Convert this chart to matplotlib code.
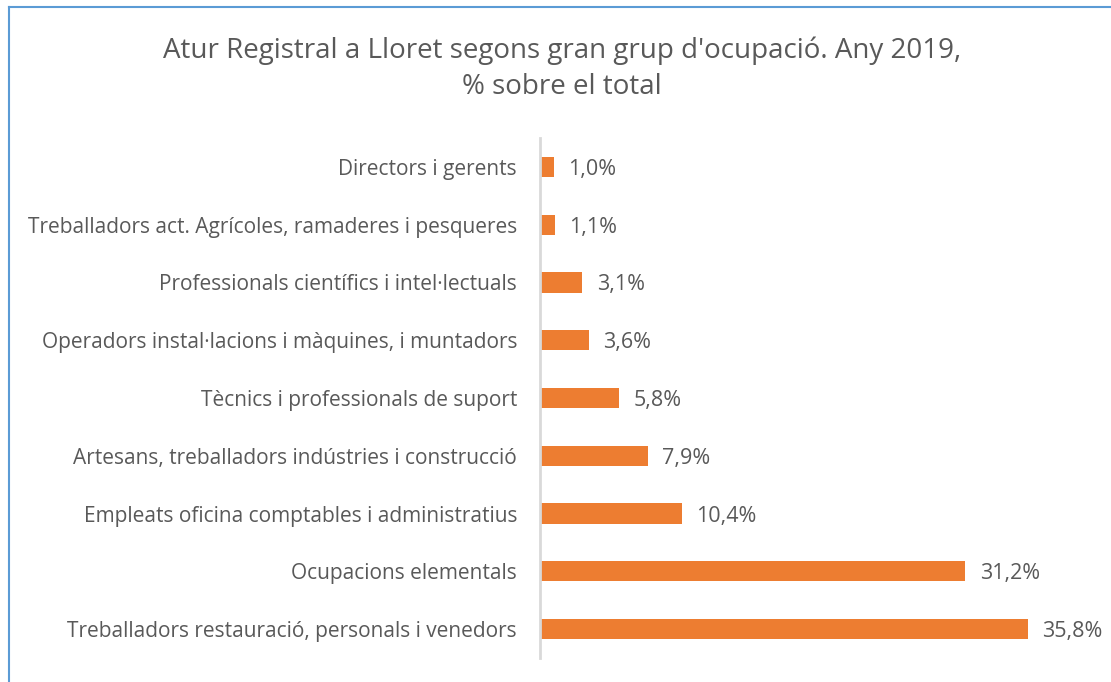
import matplotlib
matplotlib.use("Agg")
import matplotlib.pyplot as plt
from matplotlib.lines import Line2D

categories = [
    "Treballadors restauració, personals i venedors",
    "Ocupacions elementals",
    "Empleats oficina comptables i administratius",
    "Artesans, treballadors indústries i construcció",
    "Tècnics i professionals de suport",
    "Operadors instal·lacions i màquines, i muntadors",
    "Professionals científics i intel·lectuals",
    "Treballadors act. Agrícoles, ramaderes i pesqueres",
    "Directors i gerents",
]
values = [35.8, 31.2, 10.4, 7.9, 5.8, 3.6, 3.1, 1.1, 1.0]
value_labels = ["35,8%", "31,2%", "10,4%", "7,9%", "5,8%", "3,6%", "3,1%", "1,1%", "1,0%"]
title = "Atur Registral a Lloret segons gran grup d'ocupació. Any 2019,\n% sobre el total"

plt.rcParams['font.family'] = ['Open Sans', 'DejaVu Sans']
W, H = 1111, 682
fig = plt.figure(figsize=(W / 100, H / 100), dpi=100)
ax = fig.add_axes([540 / W, 24 / H, 545 / W, 520 / H])

text_col = "#595959"
ax.barh(range(len(values)), values, height=0.35, color="#ED7D31")
ax.set_ylim(-0.5, len(values) - 0.5)
ax.set_xlim(0, 545 / 13.63)
ax.set_yticks(range(len(values)))
ax.set_yticklabels(categories, fontsize=15, color=text_col)
ax.tick_params(axis='y', length=0, pad=16.5)
ax.set_xticks([])
for s in ["top", "right", "bottom"]:
    ax.spines[s].set_visible(False)
ax.spines["left"].set_color("#D9D9D9")
ax.spines["left"].set_linewidth(2)
for i, (v, lab) in enumerate(zip(values, value_labels)):
    ax.text(v + 1.05, i, lab, va="center_baseline", ha="left", fontsize=15.5, color=text_col)

fig.text(562 / W, 1 - 69 / H, title, ha="center", va="center", fontsize=20,
         color=text_col, linespacing=1.4)

# chart border (blue)
fig.add_artist(Line2D([9 / W, 9 / W], [0, 1 - 7 / H], transform=fig.transFigure,
                      color="#5B9BD5", lw=1.5))
fig.add_artist(Line2D([9 / W, 1], [1 - 7 / H, 1 - 7 / H], transform=fig.transFigure,
                      color="#5B9BD5", lw=1.5))

fig.savefig("out.png", dpi=100)
